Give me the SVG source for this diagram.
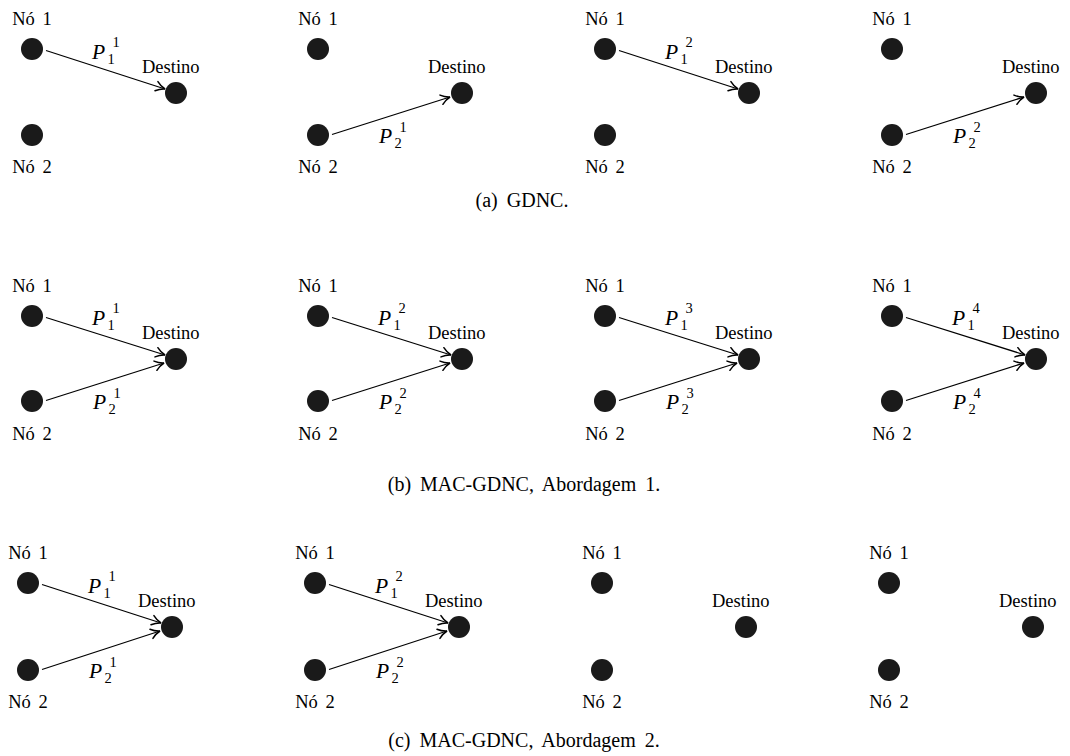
<svg xmlns="http://www.w3.org/2000/svg" width="1070" height="756" viewBox="0 0 1070 756" font-family="'Liberation Serif', 'DejaVu Serif', serif">
<defs>
<style>
text{font-family:'Liberation Serif','DejaVu Serif',serif;fill:#000}
.lbl{font-size:18.5px;word-spacing:3px}
.dl{font-size:18.5px}
.cap{font-size:20px;word-spacing:4px}
.p{font-size:21.5px;font-style:italic}
.s{font-size:14.5px;text-anchor:middle}
.dot{fill:#1a1a1a}
.edge{stroke:#000;stroke-width:1.3;fill:none;marker-end:url(#ah)}
</style>
<marker id="ah" markerUnits="userSpaceOnUse" markerWidth="12" markerHeight="12" viewBox="-8 -5 10 10" refX="0" refY="0" orient="auto" overflow="visible">
<path d="M-7.5,-4 C-4.8,-1.7 -2,-0.5 0,0 C-2,0.5 -4.8,1.7 -7.5,4" fill="none" stroke="#000" stroke-width="1.25" stroke-linecap="round"/>
</marker>
</defs>

<!-- Row (a) -->
<g id="a1" transform="translate(32,49)">
<g id="a1-no1"><circle r="11" class="dot"/><text class="lbl" x="0" y="-24" text-anchor="middle">Nó 1</text></g>
<g id="a1-no2"><circle cy="86" r="11" class="dot"/><text class="lbl" x="0" y="124" text-anchor="middle">Nó 2</text></g>
<g id="a1-dest"><circle cx="144" cy="44" r="11" class="dot"/><text class="dl" x="110" y="24">Destino</text></g>
<g id="a1-conn"><line class="edge" x1="14" y1="1.5" x2="133" y2="40"/>
<text class="p" x="60" y="9.5">P</text><text class="s" x="84" y="-2">1</text><text class="s" x="79" y="14.5">1</text></g>
</g>
<g id="a2" transform="translate(318,49)">
<g id="a2-no1"><circle r="11" class="dot"/><text class="lbl" x="0" y="-24" text-anchor="middle">Nó 1</text></g>
<g id="a2-no2"><circle cy="86" r="11" class="dot"/><text class="lbl" x="0" y="124" text-anchor="middle">Nó 2</text></g>
<g id="a2-dest"><circle cx="144" cy="44" r="11" class="dot"/><text class="dl" x="110" y="24">Destino</text></g>
<g id="a2-conn"><line class="edge" x1="14" y1="85.5" x2="132" y2="48"/>
<text class="p" x="61" y="94">P</text><text class="s" x="85" y="82.5">1</text><text class="s" x="80" y="99">2</text></g>
</g>
<g id="a3" transform="translate(605,49)">
<g id="a3-no1"><circle r="11" class="dot"/><text class="lbl" x="0" y="-24" text-anchor="middle">Nó 1</text></g>
<g id="a3-no2"><circle cy="86" r="11" class="dot"/><text class="lbl" x="0" y="124" text-anchor="middle">Nó 2</text></g>
<g id="a3-dest"><circle cx="144" cy="44" r="11" class="dot"/><text class="dl" x="110" y="24">Destino</text></g>
<g id="a3-conn"><line class="edge" x1="14" y1="1.5" x2="133" y2="40"/>
<text class="p" x="60" y="9.5">P</text><text class="s" x="84" y="-2">2</text><text class="s" x="79" y="14.5">1</text></g>
</g>
<g id="a4" transform="translate(892,49)">
<g id="a4-no1"><circle r="11" class="dot"/><text class="lbl" x="0" y="-24" text-anchor="middle">Nó 1</text></g>
<g id="a4-no2"><circle cy="86" r="11" class="dot"/><text class="lbl" x="0" y="124" text-anchor="middle">Nó 2</text></g>
<g id="a4-dest"><circle cx="144" cy="44" r="11" class="dot"/><text class="dl" x="110" y="24">Destino</text></g>
<g id="a4-conn"><line class="edge" x1="14" y1="85.5" x2="132" y2="48"/>
<text class="p" x="61" y="94">P</text><text class="s" x="85" y="82.5">2</text><text class="s" x="80" y="99">2</text></g>
</g>
<text class="cap" x="522" y="207" text-anchor="middle">(a) GDNC.</text>

<!-- Row (b) -->
<g id="b1" transform="translate(32,316)">
<g id="b1-no1"><circle r="11" class="dot"/><text class="lbl" x="0" y="-24" text-anchor="middle">Nó 1</text></g>
<g id="b1-no2"><circle cy="85" r="11" class="dot"/><text class="lbl" x="0" y="124" text-anchor="middle">Nó 2</text></g>
<g id="b1-dest"><circle cx="144" cy="43" r="11" class="dot"/><text class="dl" x="110" y="23">Destino</text></g>
<g id="b1-conn"><line class="edge" x1="14" y1="1.5" x2="133" y2="39"/><line class="edge" x1="14" y1="84.5" x2="132" y2="47"/>
<text class="p" x="60" y="8.5">P</text><text class="s" x="84" y="-3">1</text><text class="s" x="79" y="13.5">1</text>
<text class="p" x="61" y="93">P</text><text class="s" x="85" y="81.5">1</text><text class="s" x="80" y="98">2</text></g>
</g>
<g id="b2" transform="translate(318,316)">
<g id="b2-no1"><circle r="11" class="dot"/><text class="lbl" x="0" y="-24" text-anchor="middle">Nó 1</text></g>
<g id="b2-no2"><circle cy="85" r="11" class="dot"/><text class="lbl" x="0" y="124" text-anchor="middle">Nó 2</text></g>
<g id="b2-dest"><circle cx="144" cy="43" r="11" class="dot"/><text class="dl" x="110" y="23">Destino</text></g>
<g id="b2-conn"><line class="edge" x1="14" y1="1.5" x2="133" y2="39"/><line class="edge" x1="14" y1="84.5" x2="132" y2="47"/>
<text class="p" x="60" y="8.5">P</text><text class="s" x="84" y="-3">2</text><text class="s" x="79" y="13.5">1</text>
<text class="p" x="61" y="93">P</text><text class="s" x="85" y="81.5">2</text><text class="s" x="80" y="98">2</text></g>
</g>
<g id="b3" transform="translate(605,316)">
<g id="b3-no1"><circle r="11" class="dot"/><text class="lbl" x="0" y="-24" text-anchor="middle">Nó 1</text></g>
<g id="b3-no2"><circle cy="85" r="11" class="dot"/><text class="lbl" x="0" y="124" text-anchor="middle">Nó 2</text></g>
<g id="b3-dest"><circle cx="144" cy="43" r="11" class="dot"/><text class="dl" x="110" y="23">Destino</text></g>
<g id="b3-conn"><line class="edge" x1="14" y1="1.5" x2="133" y2="39"/><line class="edge" x1="14" y1="84.5" x2="132" y2="47"/>
<text class="p" x="60" y="8.5">P</text><text class="s" x="84" y="-3">3</text><text class="s" x="79" y="13.5">1</text>
<text class="p" x="61" y="93">P</text><text class="s" x="85" y="81.5">3</text><text class="s" x="80" y="98">2</text></g>
</g>
<g id="b4" transform="translate(892,316)">
<g id="b4-no1"><circle r="11" class="dot"/><text class="lbl" x="0" y="-24" text-anchor="middle">Nó 1</text></g>
<g id="b4-no2"><circle cy="85" r="11" class="dot"/><text class="lbl" x="0" y="124" text-anchor="middle">Nó 2</text></g>
<g id="b4-dest"><circle cx="144" cy="43" r="11" class="dot"/><text class="dl" x="110" y="23">Destino</text></g>
<g id="b4-conn"><line class="edge" x1="14" y1="1.5" x2="133" y2="39"/><line class="edge" x1="14" y1="84.5" x2="132" y2="47"/>
<text class="p" x="60" y="8.5">P</text><text class="s" x="84" y="-3">4</text><text class="s" x="79" y="13.5">1</text>
<text class="p" x="61" y="93">P</text><text class="s" x="85" y="81.5">4</text><text class="s" x="80" y="98">2</text></g>
</g>
<text class="cap" x="524" y="491" text-anchor="middle">(b) MAC-GDNC, Abordagem 1.</text>

<!-- Row (c) -->
<g id="c1" transform="translate(28,583)">
<g id="c1-no1"><circle r="11" class="dot"/><text class="lbl" x="0" y="-24" text-anchor="middle">Nó 1</text></g>
<g id="c1-no2"><circle cy="87" r="11" class="dot"/><text class="lbl" x="0" y="125" text-anchor="middle">Nó 2</text></g>
<g id="c1-dest"><circle cx="144" cy="44" r="11" class="dot"/><text class="dl" x="110" y="24">Destino</text></g>
<g id="c1-conn"><line class="edge" x1="14" y1="1.5" x2="133" y2="40"/><line class="edge" x1="14" y1="86.5" x2="132" y2="48"/>
<text class="p" x="60" y="9.5">P</text><text class="s" x="84" y="-2">1</text><text class="s" x="79" y="14.5">1</text>
<text class="p" x="61" y="95">P</text><text class="s" x="85" y="83.5">1</text><text class="s" x="80" y="100">2</text></g>
</g>
<g id="c2" transform="translate(315,583)">
<g id="c2-no1"><circle r="11" class="dot"/><text class="lbl" x="0" y="-24" text-anchor="middle">Nó 1</text></g>
<g id="c2-no2"><circle cy="87" r="11" class="dot"/><text class="lbl" x="0" y="125" text-anchor="middle">Nó 2</text></g>
<g id="c2-dest"><circle cx="144" cy="44" r="11" class="dot"/><text class="dl" x="110" y="24">Destino</text></g>
<g id="c2-conn"><line class="edge" x1="14" y1="1.5" x2="133" y2="40"/><line class="edge" x1="14" y1="86.5" x2="132" y2="48"/>
<text class="p" x="60" y="9.5">P</text><text class="s" x="84" y="-2">2</text><text class="s" x="79" y="14.5">1</text>
<text class="p" x="61" y="95">P</text><text class="s" x="85" y="83.5">2</text><text class="s" x="80" y="100">2</text></g>
</g>
<g id="c3" transform="translate(602,583)">
<g id="c3-no1"><circle r="11" class="dot"/><text class="lbl" x="0" y="-24" text-anchor="middle">Nó 1</text></g>
<g id="c3-no2"><circle cy="87" r="11" class="dot"/><text class="lbl" x="0" y="125" text-anchor="middle">Nó 2</text></g>
<g id="c3-dest"><circle cx="144" cy="44" r="11" class="dot"/><text class="dl" x="110" y="24">Destino</text></g>
</g>
<g id="c4" transform="translate(889,583)">
<g id="c4-no1"><circle r="11" class="dot"/><text class="lbl" x="0" y="-24" text-anchor="middle">Nó 1</text></g>
<g id="c4-no2"><circle cy="87" r="11" class="dot"/><text class="lbl" x="0" y="125" text-anchor="middle">Nó 2</text></g>
<g id="c4-dest"><circle cx="144" cy="44" r="11" class="dot"/><text class="dl" x="110" y="24">Destino</text></g>
</g>
<text class="cap" x="524" y="747" text-anchor="middle">(c) MAC-GDNC, Abordagem 2.</text>
</svg>
